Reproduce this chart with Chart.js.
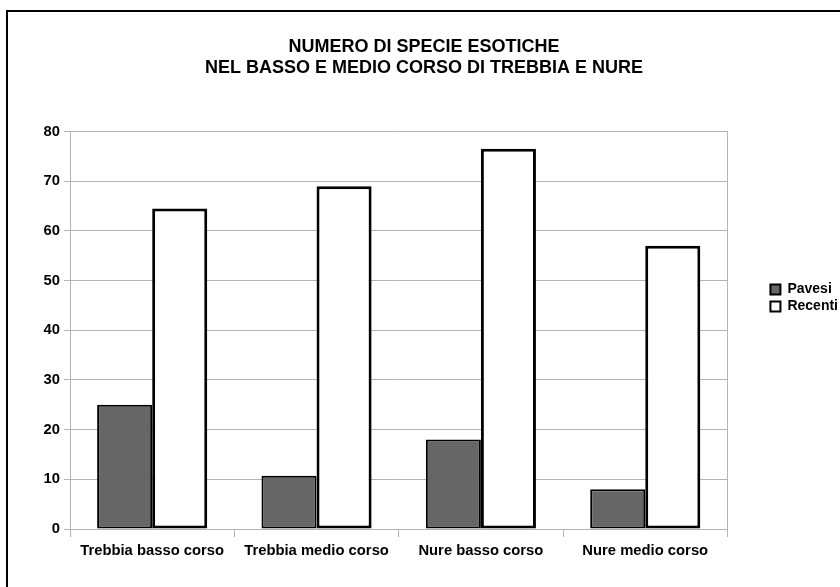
<!DOCTYPE html>
<html>
<head>
<meta charset="utf-8">
<script src="https://cdn.jsdelivr.net/npm/chart.js@4"></script>
<style>
  html, body { margin: 0; padding: 0; background: #fff; overflow: hidden; width: 840px; height: 587px; }
  #frame { position: absolute; left: 6px; top: 10px; width: 900px; height: 700px;
           border-left: 2px solid #000; border-top: 2px solid #000; }
  #chart { position: absolute; left: 0; top: 0; }
</style>
</head>
<body>
<div id="frame"></div>
<canvas id="chart" width="848" height="587"></canvas>
<script>
// categories and series
const categories = ['Trebbia basso corso', 'Trebbia medio corso', 'Nure basso corso', 'Nure medio corso'];
const pavesi = [25, 10.7, 18, 8];
const recenti = [64.5, 69, 76.5, 57];
const yMax = 80;
const yStep = 10;
const titleLines = ['NUMERO DI SPECIE ESOTICHE', 'NEL BASSO E MEDIO CORSO DI TREBBIA E NURE'];

const font = "'Liberation Sans', Arial, sans-serif";
const gridGray = '#b3b3b3';

new Chart(document.getElementById('chart').getContext('2d'), {
    type: 'bar',
    data: {
        labels: categories,
        datasets: [
            {
                label: 'Pavesi',
                data: pavesi,
                backgroundColor: '#666666',
                borderColor: '#000',
                borderWidth: 2,
                borderSkipped: false
            },
            {
                label: 'Recenti',
                data: recenti,
                backgroundColor: '#ffffff',
                borderColor: '#000',
                borderWidth: 3,
                borderSkipped: false
            }
        ]
    },
    options: {
        responsive: false,
        animation: false,
        datasets: { bar: { categoryPercentage: 0.67, barPercentage: 1.0 } },
        layout: { padding: { left: 0, right: 0, top: 25, bottom: 16 } },
        plugins: {
            title: {
                display: true,
                text: titleLines,
                color: '#000',
                font: { family: font, size: 18, weight: 'bold', lineHeight: 1.18 },
                padding: { top: 11, bottom: 53 }
            },
            legend: {
                position: 'right',
                labels: {
                    color: '#000',
                    font: { family: font, size: 14, weight: 'bold' },
                    boxWidth: 10,
                    boxHeight: 10,
                    padding: 3,
                    generateLabels: chart =>
                        Chart.defaults.plugins.legend.labels.generateLabels(chart)
                            .map(item => ({ ...item, lineWidth: 2 }))
                }
            },
            tooltip: { enabled: false }
        },
        scales: {
            x: {
                grid: { offset: true, drawOnChartArea: false, color: gridGray, tickLength: 8 },
                border: { color: gridGray },
                ticks: { color: '#000', padding: 5, font: { family: font, size: 14.8, weight: 'bold' } },
                afterFit: s => { s.height = 42; }
            },
            y: {
                min: 0,
                max: yMax,
                ticks: { stepSize: yStep, color: '#000', padding: 4, font: { family: font, size: 14.8, weight: 'bold' } },
                grid: { color: gridGray, tickLength: 6 },
                border: { color: gridGray },
                afterFit: s => { s.width = 70; }
            },
            // empty axis on the right: gives the plot its right edge line and the gap before the legend
            gap: {
                type: 'linear',
                position: 'right',
                ticks: { display: false },
                grid: { display: false },
                border: { color: gridGray },
                afterFit: s => { s.width = 40; }
            }
        }
    }
});
</script>
</body>
</html>
